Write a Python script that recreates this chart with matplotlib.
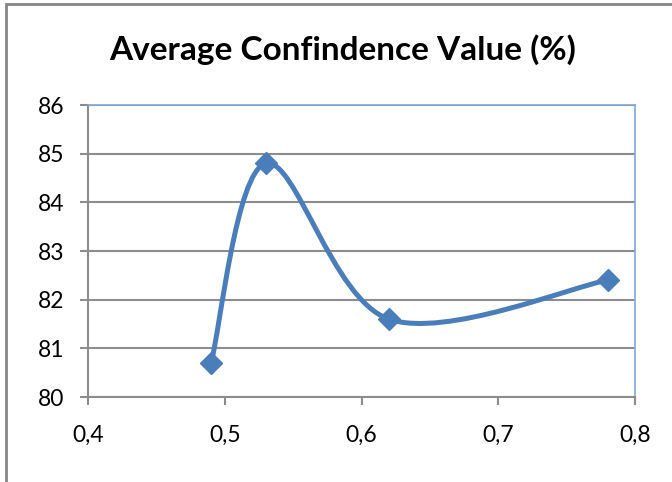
import matplotlib.pyplot as plt
from matplotlib.path import Path
from matplotlib.patches import PathPatch, Rectangle

x_values = [0.49, 0.53, 0.62, 0.78]
y_values = [80.7, 84.8, 81.6, 82.4]
x_ticks = [0.4, 0.5, 0.6, 0.7, 0.8]
x_tick_labels = ["0,4", "0,5", "0,6", "0,7", "0,8"]
y_ticks = [80, 81, 82, 83, 84, 85, 86]
title = "Average Confindence Value (%)"

blue = "#4A7EBB"
grid_gray = "#8C8C8C"

plt.rcParams['font.family'] = ['Lato', 'DejaVu Sans']


def smooth_path(xs, ys):
    # excel style smoothed line: bezier segments with catmull-rom control points
    pts = list(zip(xs, ys))
    verts = [pts[0]]
    codes = [Path.MOVETO]
    n = len(pts)
    for i in range(n - 1):
        p_prev = pts[i - 1] if i > 0 else pts[i]
        p0 = pts[i]
        p1 = pts[i + 1]
        p_next = pts[i + 2] if i + 2 < n else pts[i + 1]
        c1 = (p0[0] + (p1[0] - p_prev[0]) / 6, p0[1] + (p1[1] - p_prev[1]) / 6)
        c2 = (p1[0] - (p_next[0] - p0[0]) / 6, p1[1] - (p_next[1] - p0[1]) / 6)
        verts += [c1, c2, p1]
        codes += [Path.CURVE4, Path.CURVE4, Path.CURVE4]
    return Path(verts, codes)


fig = plt.figure(figsize=(6.72, 4.82), dpi=100)
fig.patches.append(Rectangle((6 / 672, -0.1), 1.2, 1 - 4 / 482 + 0.1, transform=fig.transFigure,
                             fill=False, edgecolor="#868686", linewidth=2))

ax = fig.add_axes([88 / 672, 1 - 397 / 482, 547 / 672, 292 / 482])
ax.set_xlim(0.4, 0.8)
ax.set_ylim(80, 86)
ax.set_xticks(x_ticks)
ax.set_xticklabels(x_tick_labels)
ax.set_yticks(y_ticks)
ax.yaxis.grid(True, color=grid_gray, linewidth=1.5)
ax.set_axisbelow(True)

ax.add_patch(PathPatch(smooth_path(x_values, y_values), facecolor="none", edgecolor=blue,
                       linewidth=3.6, capstyle="round", joinstyle="round", zorder=3))
ax.plot(x_values, y_values, linestyle="none", marker="D", markersize=11, color=blue, zorder=4)

for side in ["left", "bottom"]:
    ax.spines[side].set_color(grid_gray)
    ax.spines[side].set_linewidth(1.5)
for side in ["top", "right"]:
    ax.spines[side].set_color("#7FA7D8")
    ax.spines[side].set_linewidth(1.2)

ax.tick_params(axis="both", direction="out", length=6, width=1.5, color=grid_gray,
               labelsize=16.5, labelcolor="black")
ax.tick_params(axis="x", pad=14)
ax.tick_params(axis="y", pad=11)

fig.text(343 / 672, 1 - 50 / 482, title, ha="center", va="center", fontsize=24, fontweight="bold")

plt.savefig("out.png", dpi=100)
